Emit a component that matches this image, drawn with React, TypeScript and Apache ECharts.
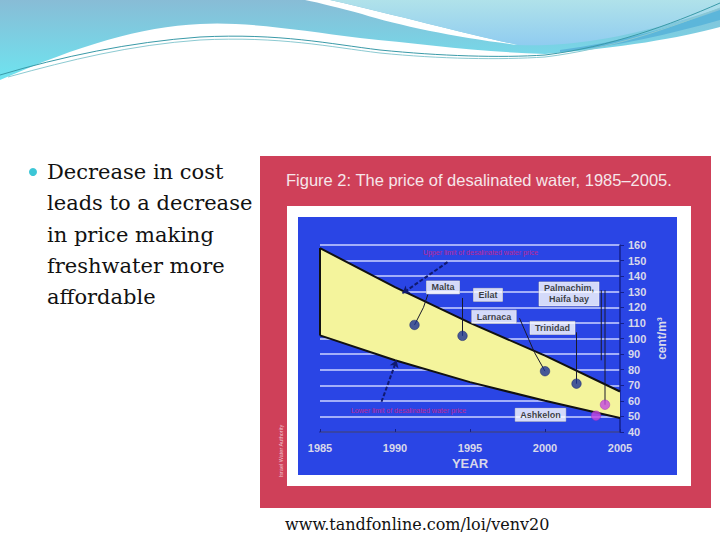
import React, { useEffect, useRef } from "react";
import * as echarts from "echarts";

// ---------- data ----------
const bandYears = [1985, 1990, 1995, 2000, 2005];
const upperPrice = [158, 133, 110, 89, 66];
const lowerPrice = [102, 86, 72, 60, 49];

const plantNames = ["Malta", "Eilat", "Larnaca", "Trinidad", "Palmachim", "Ashkelon"];
const plantYears = [1991.3, 1994.5, 2000.0, 2002.1, 2004.0, 2003.4];
const plantPrices = [108.7, 101.7, 79, 71, 57.5, 50.5];
const plantNewGen = [false, false, false, false, true, true];

const labelTexts = ["Malta", "Eilat", "Larnaca", "Trinidad", "Palmachim,\nHaifa bay", "Ashkelon"];
const labelYears = [1993.2, 1996.2, 1996.6, 2000.5, 2001.6, 1999.7];
const labelPrices = [132.8, 128, 114, 106.8, 128.6, 51];

const leaderLines: number[][][] = [
  [[1991.3, 108.7], [1991.9, 120], [1992.2, 128.5]],
  [[1994.5, 101.7], [1994.5, 126]],
  [[2000.0, 79], [1999.3, 91], [1998.3, 113]],
  [[2002.1, 71], [2002.1, 104]],
  [[2004.0, 57.5], [2004.0, 131]],
  [[2003.75, 86], [2003.75, 131]],
];

const rangeNotes = ["Upper limit of desalinated water price", "Lower limit of desalinated water price"];
const rangeNoteYears = [1995.7, 1990.9];
const rangeNotePrices = [154.9, 53.6];

const arrowStarts = [[1993.5, 149], [1989.1, 59.4]];
const arrowEnds = [[1990.5, 129], [1990.1, 86]];

const bulletLines = ["Decrease in cost", "leads to a decrease", "in price making", "freshwater more", "affordable"];

// ---------- decorative shapes ----------
echarts.graphic.registerShape(
  "waveBlue",
  echarts.graphic.extendPath(
    "M0 0 L720 0 L720 27 C680 38 620 48 545 54 C480 52 420 44 360 38 C300 30 240 21 200 24 C140 27 80 45 0 80 Z",
    {}
  )
);
echarts.graphic.registerShape(
  "waveWhite",
  echarts.graphic.extendPath(
    "M305 0 L330 0 C400 16 470 35 518 45 C460 38 400 26 362 14 C340 8 320 3 305 0 Z",
    {}
  )
);
echarts.graphic.registerShape(
  "waveLight",
  echarts.graphic.extendPath(
    "M330 0 L720 0 L720 8 C690 18 640 34 590 41 C560 45 540 46 518 45 C470 35 400 16 330 0 Z",
    {}
  )
);
echarts.graphic.registerShape(
  "waveStreak",
  echarts.graphic.extendPath("M560 50 C620 42 670 28 720 10 L720 20 C670 34 620 46 560 52 Z", {})
);
echarts.graphic.registerShape(
  "waveLine1",
  echarts.graphic.extendPath(
    "M0 75 C60 57 130 42 200 37 C280 33 330 44 380 50 C440 56 500 58 545 55 C610 47 670 25 720 3",
    {}
  )
);
echarts.graphic.registerShape(
  "waveLine2",
  echarts.graphic.extendPath(
    "M8 77 C70 60 130 45 200 40 C280 36 330 47 380 53 C440 59 500 60 545 57 C610 49 670 28 720 8",
    {}
  )
);

export default function App() {
  const ref = useRef<HTMLDivElement>(null);

  useEffect(() => {
    if (!ref.current) return;
    const chart = echarts.init(ref.current, undefined, { renderer: "svg" });

    const axisText = "#d8d8ea";
    const navy = "#14208a";

    const graphic: any[] = [
      {
        type: "waveBlue", x: 0, y: 0, z: -20,
        style: {
          fill: new echarts.graphic.LinearGradient(0, 0, 0, 1, [
            { offset: 0, color: "#88bcd6" },
            { offset: 1, color: "#6ee4f0" },
          ]),
        },
      },
      { type: "waveWhite", x: 0, y: 0, z: -19, style: { fill: "#ffffff" } },
      {
        type: "waveLight", x: 0, y: 0, z: -18,
        style: {
          fill: new echarts.graphic.LinearGradient(0, 0, 0, 1, [
            { offset: 0, color: "#b0e2ea" },
            { offset: 1, color: "#90ccf0" },
          ]),
        },
      },
      { type: "waveStreak", x: 0, y: 0, z: -17, style: { fill: "#5cb6da" } },
      { type: "waveLine1", x: 0, y: 0, z: -16, style: { fill: "none", stroke: "#3a9aa8", lineWidth: 1 } },
      { type: "waveLine2", x: 0, y: 0, z: -16, style: { fill: "none", stroke: "#8ccad2", lineWidth: 1 } },

      { type: "rect", z: -10, shape: { x: 260, y: 156, width: 451, height: 352 }, style: { fill: "#cf4059" } },
      { type: "rect", z: -9, shape: { x: 287, y: 206, width: 404, height: 280 }, style: { fill: "#ffffff" } },
      { type: "rect", z: -8, shape: { x: 298, y: 217, width: 379, height: 258 }, style: { fill: "#2a45e5" } },
      {
        type: "text", x: 286, y: 180, z: 5,
        style: {
          text: "Figure 2: The price of desalinated water, 1985–2005.",
          fill: "#f6e6ea", font: "16.5px 'Liberation Sans', Arial, sans-serif",
          verticalAlign: "middle", align: "left",
        },
      },
      {
        type: "text", x: 281, y: 451, rotation: Math.PI / 2, z: 5,
        style: {
          text: "Israel Water Authority",
          fill: "#f2c6cf", font: "5.5px 'Liberation Sans', Arial, sans-serif",
          align: "center", verticalAlign: "middle",
        },
      },

      { type: "circle", shape: { cx: 33, cy: 172, r: 4 }, style: { fill: "#3cc6d6" } },
      ...bulletLines.map((t, i) => ({
        type: "text", x: 47, y: 172 + i * 31.3,
        style: {
          text: t, fill: "#111111", font: "21px 'DejaVu Serif', serif",
          verticalAlign: "middle", align: "left",
        },
      })),
      {
        type: "text", x: 285, y: 524,
        style: {
          text: "www.tandfonline.com/loi/venv20", fill: "#111111",
          font: "16px 'DejaVu Serif', serif", verticalAlign: "middle", align: "left",
        },
      },
    ];

    const upperLine = bandYears.map((y, i) => [y, upperPrice[i]]);
    const lowerLine = bandYears.map((y, i) => [y, lowerPrice[i]]);

    const option: any = {
      animation: false,
      textStyle: { fontFamily: "'Liberation Sans', Arial, sans-serif" },
      graphic,
      grid: { left: 320, right: 100, top: 245, bottom: 108, containLabel: false },
      xAxis: {
        type: "value", min: 1985, max: 2005, interval: 5,
        axisLine: { show: true, lineStyle: { color: navy, width: 1.5 } },
        axisTick: { show: true, inside: true, length: 3, lineStyle: { color: navy } },
        axisLabel: {
          color: axisText, fontWeight: "bold", fontSize: 11, margin: 10,
          formatter: (v: number) => String(v),
        },
        splitLine: { show: false },
        name: "YEAR", nameLocation: "middle", nameGap: 25,
        nameTextStyle: { color: axisText, fontWeight: "bold", fontSize: 13 },
      },
      yAxis: {
        type: "value", position: "right", min: 40, max: 160, interval: 10,
        axisLine: { show: true, lineStyle: { color: navy, width: 1.5 } },
        axisTick: { show: true, length: 4, lineStyle: { color: navy } },
        axisLabel: { color: axisText, fontWeight: "bold", fontSize: 11, margin: 8 },
        splitLine: { show: true, lineStyle: { color: "#cdd3ff", width: 1.5 } },
        name: "cent/m³", nameLocation: "middle", nameGap: 36, nameRotate: 90,
        nameTextStyle: { color: axisText, fontWeight: "bold", fontSize: 12 },
      },
      series: [
        {
          type: "custom", z: 2, silent: true,
          data: [[bandYears[0], upperPrice[0]]],
          renderItem: (params: any, api: any) => {
            const pts = [
              ...bandYears.map((y, i) => api.coord([y, upperPrice[i]])),
              ...bandYears.map((y, i) => api.coord([y, lowerPrice[i]])).reverse(),
            ];
            return { type: "polygon", shape: { points: pts }, style: { fill: "#f4f49c" } };
          },
        },
        {
          type: "line", data: upperLine, symbol: "none", z: 3,
          lineStyle: { color: "#111111", width: 2 },
        },
        {
          type: "line", data: lowerLine, symbol: "none", z: 3,
          lineStyle: { color: "#111111", width: 2 },
        },
        {
          type: "line", symbol: "none", z: 4,
          data: [[bandYears[0], lowerPrice[0]], [bandYears[0], upperPrice[0]]],
          lineStyle: { color: "#111111", width: 2 },
          markLine: {
            silent: true, symbol: ["none", "arrow"], symbolSize: 7,
            lineStyle: { type: [4, 2], color: "#101a70", width: 2 },
            label: { show: false },
            data: arrowStarts.map((s, i) => [{ coord: s }, { coord: arrowEnds[i] }]),
          },
        },
        ...leaderLines.map((pts) => ({
          type: "line", symbol: "none", z: 5, data: pts,
          lineStyle: { color: "#1a1a2a", width: 1 },
        })),
        {
          type: "scatter", z: 6, symbolSize: 9.5,
          data: plantNames.map((n, i) => ({
            name: n, value: [plantYears[i], plantPrices[i]],
            itemStyle: plantNewGen[i]
              ? { color: "#c446e0", borderColor: "#9a2ab8", borderWidth: 0.6 }
              : { color: "#1a3196", borderColor: "#0c1a66", borderWidth: 0.6 },
          })),
        },
        {
          type: "scatter", z: 8, symbolSize: 1, itemStyle: { color: "rgba(0,0,0,0)" },
          data: labelTexts.map((t, i) => ({ name: t, value: [labelYears[i], labelPrices[i]] })),
          label: {
            show: true, position: "inside", formatter: (p: any) => p.name,
            color: "#111111", fontWeight: "bold", fontSize: 9, lineHeight: 11,
            backgroundColor: "#ffffff", borderColor: "#b0b0b0", borderWidth: 0.5,
            padding: [1, 5],
          },
        },
        {
          type: "scatter", z: 7, symbolSize: 1, itemStyle: { color: "rgba(0,0,0,0)" },
          data: rangeNotes.map((t, i) => ({ name: t, value: [rangeNoteYears[i], rangeNotePrices[i]] })),
          label: {
            show: true, position: "inside", formatter: (p: any) => p.name,
            color: "#e0207a", fontSize: 7,
          },
        },
      ],
    };

    chart.setOption(option);
    return () => chart.dispose();
  }, []);

  return (
    <div
      ref={ref}
      style={{ position: "fixed", left: 0, top: 0, width: 720, height: 540, background: "#ffffff" }}
    />
  );
}
